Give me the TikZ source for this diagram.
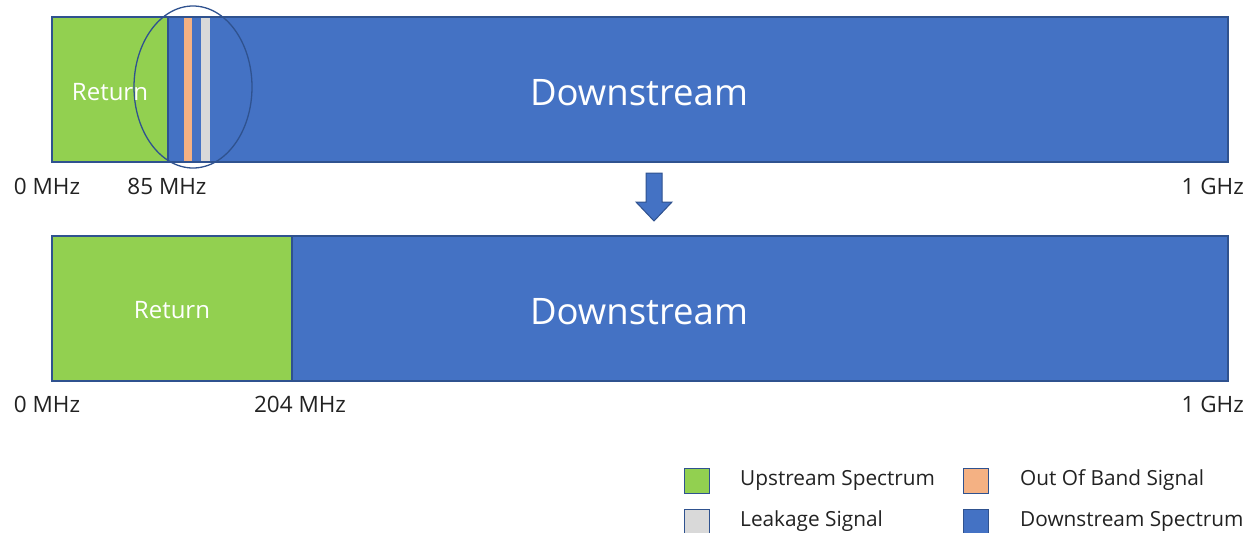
\documentclass[tikz,border=0pt]{standalone}
\usepackage{fontspec}
\setmainfont{Open Sans}
\usetikzlibrary{shapes.geometric}
\definecolor{upc}{HTML}{92D050}
\definecolor{downc}{HTML}{4472C4}
\definecolor{edgec}{HTML}{2F528F}
\definecolor{oobc}{HTML}{F4B183}
\definecolor{leakc}{HTML}{D9D9D9}
\definecolor{txtc}{HTML}{222222}
\begin{document}
\begin{tikzpicture}[x=1pt,y=-1pt,
  bar/.style={draw=edgec, line width=1.6pt, inner sep=0pt, outer sep=0pt, anchor=north west, minimum height=145pt},
  strip/.style={inner sep=0pt, outer sep=0pt, anchor=north west, minimum height=143pt},
  axis/.style={text=txtc, font=\fontsize{22.5}{26}\selectfont, inner sep=0pt},
  big/.style={text=white, font=\fontsize{36.5}{42}\selectfont, inner sep=0pt},
  ret/.style={text=white, font=\fontsize{24}{28}\selectfont, inner sep=0pt},
  key/.style={draw=edgec, line width=1pt, inner sep=0pt, minimum width=25pt, minimum height=25pt},
  keytext/.style={text=txtc, font=\fontsize{20.8}{24}\selectfont, inner sep=0pt, anchor=west}]
\useasboundingbox (0,0) rectangle (1254,533);
% top bar
\node[bar, fill=downc, minimum width=1176pt] (top) at (52,17) {};
\node[bar, fill=upc, minimum width=116pt] (ret1) at (52,17) {};
\node[strip, fill=oobc, minimum width=8pt] (oob) at (184,18) {};
\node[strip, fill=leakc, minimum width=9pt] (leak) at (201,18) {};
\draw[draw=edgec, line width=1.6pt] (top.north west) rectangle (top.south east);
\node[draw=edgec, line width=1.3pt, ellipse, inner sep=0pt, minimum width=118pt, minimum height=162pt] (oval) at (193,87) {};
\node[ret] (rett1) at (110,92) {Return};
\node[big] (dn1) at (639,93) {Downstream};
\node[axis] (z1) at (47,186) {0 MHz};
\node[axis] (m85) at (167,186) {85 MHz};
\node[axis, anchor=east] (g1) at (1244,186) {1 GHz};
% arrow
\filldraw[fill=downc, draw=edgec, line width=1pt] (646,173) -- (662,173) -- (662,202) -- (672,202) -- (654,221) -- (636,202) -- (646,202) -- cycle;
% bottom bar
\node[bar, fill=downc, minimum width=1176pt] (bot) at (52,236) {};
\node[bar, fill=upc, minimum width=240pt] (ret2) at (52,236) {};
\draw[draw=edgec, line width=1.6pt] (bot.north west) rectangle (bot.south east);
\node[ret] (rett2) at (172,310) {Return};
\node[big] (dn2) at (639,312) {Downstream};
\node[axis] (z2) at (47,404) {0 MHz};
\node[axis] (m204) at (300,404) {204 MHz};
\node[axis, anchor=east] (g2) at (1244,404) {1 GHz};
% legend
\node[key, fill=upc] (k1) at (697,481) {};
\node[keytext] (t1) at (740,480) {Upstream Spectrum};
\node[key, fill=leakc] (k2) at (697,522) {};
\node[keytext] (t2) at (740,521) {Leakage Signal};
\node[key, fill=oobc] (k3) at (976,481) {};
\node[keytext] (t3) at (1020,480) {Out Of Band Signal};
\node[key, fill=downc] (k4) at (976,522) {};
\node[keytext] (t4) at (1020,521) {Downstream Spectrum};
\end{tikzpicture}
\end{document}
